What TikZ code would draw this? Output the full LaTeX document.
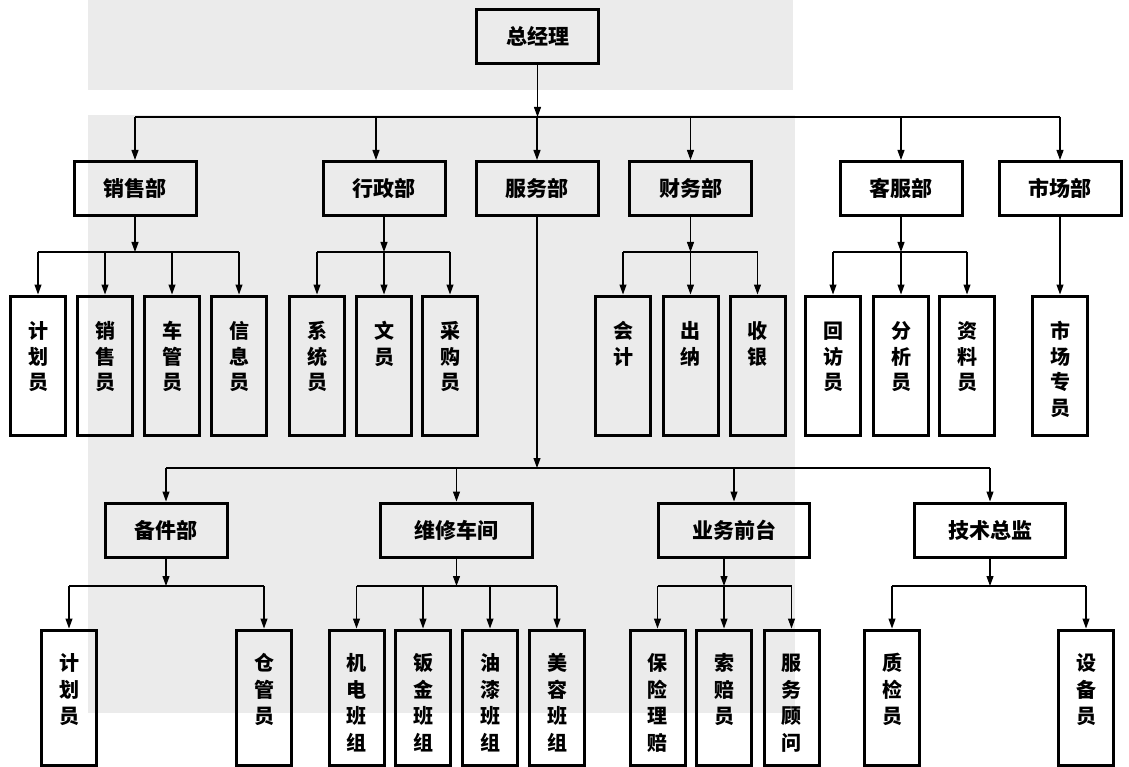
\documentclass[tikz,border=0pt]{standalone}
\usepackage{fontspec}
\setmainfont{Noto Sans CJK SC}
\usetikzlibrary{arrows.meta}
\begin{document}
\begin{tikzpicture}[x=1pt,y=-1pt,
  box/.style={draw, line width=3pt, inner sep=0pt},
  dept/.style={box, minimum width=#1, minimum height=54pt, font=\fontsize{21}{24}\selectfont\bfseries},
  leafA/.style={box, anchor=north, minimum width=55pt, text width=40pt, align=center,
     text height=42.5pt, text depth=96.5pt, font=\fontsize{20}{25.5}\selectfont\bfseries},
  leafB/.style={box, anchor=north, minimum width=55pt, text width=40pt, align=center,
     text height=40.5pt, text depth=94.5pt, font=\fontsize{20}{26.6}\selectfont\bfseries},
  conn/.style={line width=1.1pt},
  arr/.style={conn, -{Triangle[length=10pt,width=7pt]}},
  bg/.style={fill=black!8, draw=none}]
\useasboundingbox (0,0) rectangle (1129,767);
\fill[bg] (88,0) rectangle (793,90);
\fill[bg] (88,115) rectangle (795,713);

% bus levels
\coordinate (b1) at (0,117);
\coordinate (s1) at (0,252);
\coordinate (b2) at (0,468);
\coordinate (b3) at (0,586);

% level 0 and 1
\node[dept=122pt] (gm) at (537.5,36.5) {总经理};
\node[dept=122pt] (sales) at (135,188.5) {销售部};
\node[dept=122pt] (admin) at (384,188.5) {行政部};
\node[dept=122pt] (serv) at (537,188.5) {服务部};
\node[dept=122pt] (fin) at (690.5,188.5) {财务部};
\node[dept=122pt] (cs) at (901,188.5) {客服部};
\node[dept=122pt] (mkt) at (1060,188.5) {市场部};

% level 2 leaves
\node[leafA] (sl1) at (38,294.5) {计\\划\\员};
\node[leafA] (sl2) at (105,294.5) {销\\售\\员};
\node[leafA] (sl3) at (172,294.5) {车\\管\\员};
\node[leafA] (sl4) at (239,294.5) {信\\息\\员};
\node[leafA] (al1) at (317,294.5) {系\\统\\员};
\node[leafA] (al2) at (384,294.5) {文\\员};
\node[leafA] (al3) at (450,294.5) {采\\购\\员};
\node[leafA] (fl1) at (623,294.5) {会\\计};
\node[leafA] (fl2) at (690.5,294.5) {出\\纳};
\node[leafA] (fl3) at (757.5,294.5) {收\\银};
\node[leafA] (cl1) at (833,294.5) {回\\访\\员};
\node[leafA] (cl2) at (901,294.5) {分\\析\\员};
\node[leafA] (cl3) at (967,294.5) {资\\料\\员};
\node[leafA] (ml1) at (1060,294.5) {市\\场\\专\\员};

% level 3
\node[dept=122pt] (parts) at (166,530) {备件部};
\node[dept=152pt] (rep) at (456.5,530) {维修车间};
\node[dept=151pt] (front) at (734,530) {业务前台};
\node[dept=151pt] (tech) at (990,530) {技术总监};

% level 4 leaves
\node[leafB] (pl1) at (69,628.5) {计\\划\\员};
\node[leafB] (pl2) at (264,628.5) {仓\\管\\员};
\node[leafB] (rl1) at (356.5,628.5) {机\\电\\班\\组};
\node[leafB] (rl2) at (423,628.5) {钣\\金\\班\\组};
\node[leafB] (rl3) at (490,628.5) {油\\漆\\班\\组};
\node[leafB] (rl4) at (557,628.5) {美\\容\\班\\组};
\node[leafB] (ql1) at (657.5,628.5) {保\\险\\理\\赔};
\node[leafB] (ql2) at (724,628.5) {索\\赔\\员};
\node[leafB] (ql3) at (791.5,628.5) {服\\务\\顾\\问};
\node[leafB] (tl1) at (892,628.5) {质\\检\\员};
\node[leafB] (tl2) at (1086,628.5) {设\\备\\员};

% top level connectors
\draw[arr] (gm.south) -- (gm.south |- b1);
\draw[conn] (sales.north |- b1) -- (mkt.north |- b1);
\foreach \n in {sales,serv,fin,cs,mkt} \draw[arr] (\n.north |- b1) -- (\n.north);
\coordinate (adin) at (376,117);
\draw[arr] (adin) -- (adin |- admin.north);

% sales
\draw[arr] (sales.south) -- (sales.south |- s1);
\draw[conn] (sl1.north |- s1) -- (sl4.north |- s1);
\foreach \n in {sl1,sl2,sl3,sl4} \draw[arr] (\n.north |- s1) -- (\n.north);
% admin
\draw[arr] (admin.south) -- (admin.south |- s1);
\draw[conn] (al1.north |- s1) -- (al3.north |- s1);
\foreach \n in {al1,al2,al3} \draw[arr] (\n.north |- s1) -- (\n.north);
% finance
\draw[arr] (fin.south) -- (fin.south |- s1);
\draw[conn] (fl1.north |- s1) -- (fl3.north |- s1);
\foreach \n in {fl1,fl2,fl3} \draw[arr] (\n.north |- s1) -- (\n.north);
% customer service
\draw[arr] (cs.south) -- (cs.south |- s1);
\draw[conn] (cl1.north |- s1) -- (cl3.north |- s1);
\foreach \n in {cl1,cl2,cl3} \draw[arr] (\n.north |- s1) -- (\n.north);
% market
\draw[arr] (mkt.south) -- (ml1.north);

% service
\draw[arr] (serv.south) -- (serv.south |- b2);
\draw[conn] (parts.north |- b2) -- (tech.north |- b2);
\foreach \n in {parts,rep,front,tech} \draw[arr] (\n.north |- b2) -- (\n.north);

% parts
\draw[arr] (parts.south) -- (parts.south |- b3);
\draw[conn] (pl1.north |- b3) -- (pl2.north |- b3);
\foreach \n in {pl1,pl2} \draw[arr] (\n.north |- b3) -- (\n.north);
% repair
\draw[arr] (rep.south) -- (rep.south |- b3);
\draw[conn] (rl1.north |- b3) -- (rl4.north |- b3);
\foreach \n in {rl1,rl2,rl3,rl4} \draw[arr] (\n.north |- b3) -- (\n.north);
% front desk
\draw[arr] (front.south -| ql2.north) -- (ql2.north |- b3);
\draw[conn] (ql1.north |- b3) -- (ql3.north |- b3);
\foreach \n in {ql1,ql2,ql3} \draw[arr] (\n.north |- b3) -- (\n.north);
% tech
\draw[arr] (tech.south) -- (tech.south |- b3);
\draw[conn] (tl1.north |- b3) -- (tl2.north |- b3);
\foreach \n in {tl1,tl2} \draw[arr] (\n.north |- b3) -- (\n.north);
\end{tikzpicture}
\end{document}
